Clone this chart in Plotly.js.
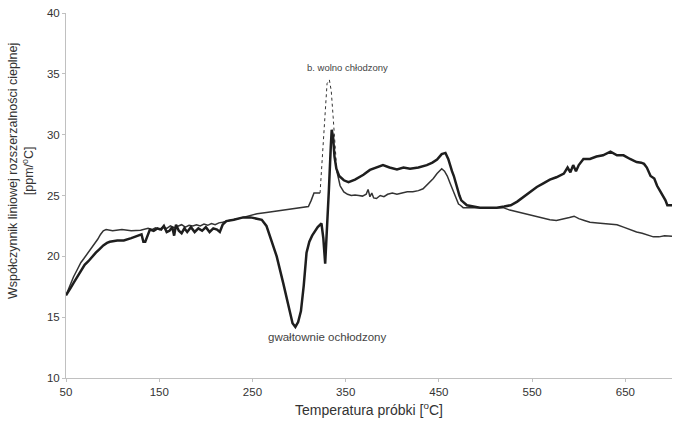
<!DOCTYPE html>
<html>
<head>
<meta charset="utf-8">
<script src="https://cdn.plot.ly/plotly-3.0.1.min.js"></script>
<style>html,body{margin:0;padding:0;background:#fff;}#chart{width:673px;height:428px;}</style>
</head>
<body>
<div id="chart"></div>
<script>
// Quenched sample (thick line) - "gwałtownie ochłodzony"
const quenchX = [50, 52, 55, 58, 62, 66, 70, 74, 78, 82,
  86, 90, 94, 97, 105, 112, 120, 128, 131, 133,
  135, 137, 140, 144, 148, 152, 155, 158, 161, 164,
  166, 168, 171, 174, 177, 180, 184, 188, 192, 196,
  200, 204, 208, 212, 215, 218, 222, 230, 240, 248,
  255, 260, 265, 270, 276, 283, 290, 293, 296, 299,
  302, 305, 308, 311, 314, 317, 320, 324, 326, 328,
  330, 332, 334, 335, 336.5, 338, 340, 343, 348, 353,
  360, 369, 376, 383, 390, 397, 405, 412, 419, 428,
  437, 443, 448, 453, 457, 460, 462, 464, 466, 468,
  470, 472, 474, 477, 480, 487, 494, 503, 512, 520,
  527, 534, 541, 548, 555, 562, 569, 576, 584, 588,
  591, 594, 597, 600, 605, 612, 619, 626, 634, 641,
  648, 655, 662, 667, 670, 673, 677, 681, 684, 687,
  690, 693, 695, 698, 700];
const quenchY = [16.8, 17.0, 17.4, 17.8, 18.3, 18.8, 19.3, 19.6, 20.0, 20.3,
  20.6, 20.9, 21.1, 21.2, 21.3, 21.3, 21.5, 21.7, 21.8, 21.2,
  21.2, 21.6, 22.2, 22.1, 22.3, 22.2, 22.5, 22.0, 22.1, 22.4,
  21.7, 22.6, 22.1, 21.9, 22.3, 22.0, 22.4, 22.0, 22.3, 22.1,
  22.4, 22.0, 22.3, 22.2, 22.0, 22.6, 22.9, 23.0, 23.2, 23.2,
  23.1, 23.0, 22.5, 21.4, 20.0, 17.8, 15.3, 14.5, 14.2, 14.6,
  15.5, 17.6, 20.3, 21.2, 21.7, 22.1, 22.4, 22.7, 21.5, 19.4,
  22.0, 25.5, 29.0, 30.4, 29.8, 28.2, 27.2, 26.6, 26.25, 26.1,
  26.3, 26.7, 27.1, 27.3, 27.5, 27.3, 27.15, 27.3, 27.2, 27.3,
  27.5, 27.7, 27.95, 28.4, 28.5, 28.0, 27.4, 27.0, 26.6, 26.0,
  25.6, 25.0, 24.6, 24.4, 24.2, 24.1, 24.0, 24.0, 24.0, 24.1,
  24.2, 24.5, 24.9, 25.3, 25.7, 26.0, 26.3, 26.5, 26.8, 27.3,
  26.9, 27.5, 27.0, 27.5, 28.0, 28.0, 28.2, 28.3, 28.6, 28.3,
  28.3, 28.0, 27.75, 27.7, 27.6, 27.3, 26.6, 26.4, 25.8, 25.4,
  25.0, 24.6, 24.2, 24.2, 24.2];

// Slowly cooled sample (thin line) - "b. wolno chłodzony"
const slowX1 = [50, 52, 55, 58, 62, 66, 69, 73, 77, 80,
  84, 87, 90, 93, 100, 110, 120, 130, 134, 138,
  142, 146, 150, 154, 158, 162, 166, 170, 174, 178,
  182, 186, 190, 194, 198, 202, 206, 210, 214, 218,
  225, 235, 245, 255, 265, 275, 285, 295, 305, 310,
  313, 316, 320, 322.5];
const slowY1 = [16.8, 17.2, 17.8, 18.3, 18.9, 19.5, 19.8, 20.2, 20.6, 20.9,
  21.4, 21.8, 22.1, 22.2, 22.1, 22.2, 22.1, 22.15, 22.2, 22.3,
  22.2, 22.35, 22.2, 22.4, 22.3, 22.5, 22.35, 22.45, 22.6, 22.4,
  22.55, 22.5, 22.6, 22.5, 22.65, 22.55, 22.7, 22.6, 22.75, 22.8,
  22.95, 23.1, 23.3, 23.5, 23.6, 23.7, 23.85, 23.9, 24.0, 24.1,
  24.6, 25.2, 25.2, 25.2];
const slowDotX = [322.5, 324, 326, 328, 330, 332.5, 334.5, 336.5, 338.5, 340.5];
const slowDotY = [25.2, 27.0, 29.8, 32.5, 34.2, 34.5, 33.6, 31.5, 29.0, 27.0];
const slowX2 = [340.5, 344, 348, 352, 356, 360, 364, 368, 372, 374,
  376, 378, 380, 383, 387, 391, 395, 400, 405, 410,
  416, 422, 428, 433, 438, 444, 448, 453, 456, 459,
  462, 465, 467, 469, 471, 473, 476, 480, 487, 494,
  502, 510, 519, 526, 534, 541, 548, 555, 562, 569,
  576, 583, 590, 595, 600, 606, 612, 620, 627, 634,
  641, 648, 655, 662, 668, 674, 680, 686, 692, 700];
const slowY2 = [27.0, 25.8, 25.3, 25.1, 25.0, 25.05, 25.0, 24.95, 25.1, 25.5,
  24.9, 25.2, 24.8, 24.75, 25.0, 24.9, 25.1, 25.2, 25.1, 25.2,
  25.3, 25.3, 25.4, 25.55, 25.9, 26.4, 26.8, 27.2, 27.0, 26.6,
  26.0, 25.4, 25.0, 24.6, 24.3, 24.2, 24.0, 24.0, 24.0, 24.0,
  23.95, 24.0, 24.0, 23.8, 23.65, 23.5, 23.35, 23.2, 23.1, 23.0,
  22.95, 23.05, 23.2, 23.3, 23.1, 22.95, 22.8, 22.75, 22.7, 22.7,
  22.6, 22.4, 22.2, 22.0, 21.9, 21.75, 21.6, 21.6, 21.7, 21.65];

const xTicks = [50, 150, 250, 350, 450, 550, 650];
const yTicks = [10, 15, 20, 25, 30, 35, 40];
const labelSlow = "b. wolno chłodzony";
const labelQuench = "gwałtownie ochłodzony";
const xTitle = "Temperatura próbki [<sup>o</sup>C]";
const yTitle = "Współczynnik liniowej rozszerzalności cieplnej<br>[ppm/<sup>o</sup>C]";

const FONT = "Liberation Sans, Arial, sans-serif";

const traces = [
  {x: slowX1, y: slowY1, mode: "lines", line: {color: "#333333", width: 1.5}, hoverinfo: "skip"},
  {x: slowDotX, y: slowDotY, mode: "lines", line: {color: "#333333", width: 1, dash: "dot"}, hoverinfo: "skip"},
  {x: slowX2, y: slowY2, mode: "lines", line: {color: "#333333", width: 1.5}, hoverinfo: "skip"},
  {x: quenchX, y: quenchY, mode: "lines", line: {color: "#1e1e1e", width: 2.5}, hoverinfo: "skip"}
];

const layout = {
  width: 673, height: 428,
  margin: {l: 66, r: 1, t: 13, b: 50},
  paper_bgcolor: "#fff", plot_bgcolor: "#fff",
  showlegend: false,
  font: {family: FONT, color: "#333", size: 11},
  xaxis: {
    range: [50, 700], tickvals: xTicks, ticktext: xTicks.map(String),
    showgrid: false, zeroline: false, showline: true, linecolor: "#c0c0c0", linewidth: 1,
    ticks: "outside", ticklen: 3, tickcolor: "#c0c0c0",
    tickfont: {family: FONT, size: 11.5, color: "#333"},
    title: {text: xTitle, font: {family: FONT, size: 14, color: "#333"}, standoff: 8}
  },
  yaxis: {
    range: [10, 40], tickvals: yTicks, ticktext: yTicks.map(String),
    showgrid: false, zeroline: false, showline: true, linecolor: "#c0c0c0", linewidth: 1,
    ticks: "outside", ticklen: 3, tickcolor: "#c0c0c0",
    tickfont: {family: FONT, size: 11.5, color: "#333"}
  },
  annotations: [
    {x: 0, y: 0.567, xref: "paper", yref: "paper", xanchor: "center", yanchor: "middle", xshift: -45,
     text: yTitle, textangle: -90, showarrow: false, font: {family: FONT, size: 12.5, color: "#333"}},
    {x: 351.5, y: 35.5, xref: "x", yref: "y", text: labelSlow, showarrow: false, font: {family: FONT, size: 9.5, color: "#444"}},
    {x: 330.5, y: 13.35, xref: "x", yref: "y", text: labelQuench, showarrow: false, font: {family: FONT, size: 11.5, color: "#444"}}
  ]
};

Plotly.newPlot("chart", traces, layout, {staticPlot: true, displayModeBar: false});
</script>
</body>
</html>
